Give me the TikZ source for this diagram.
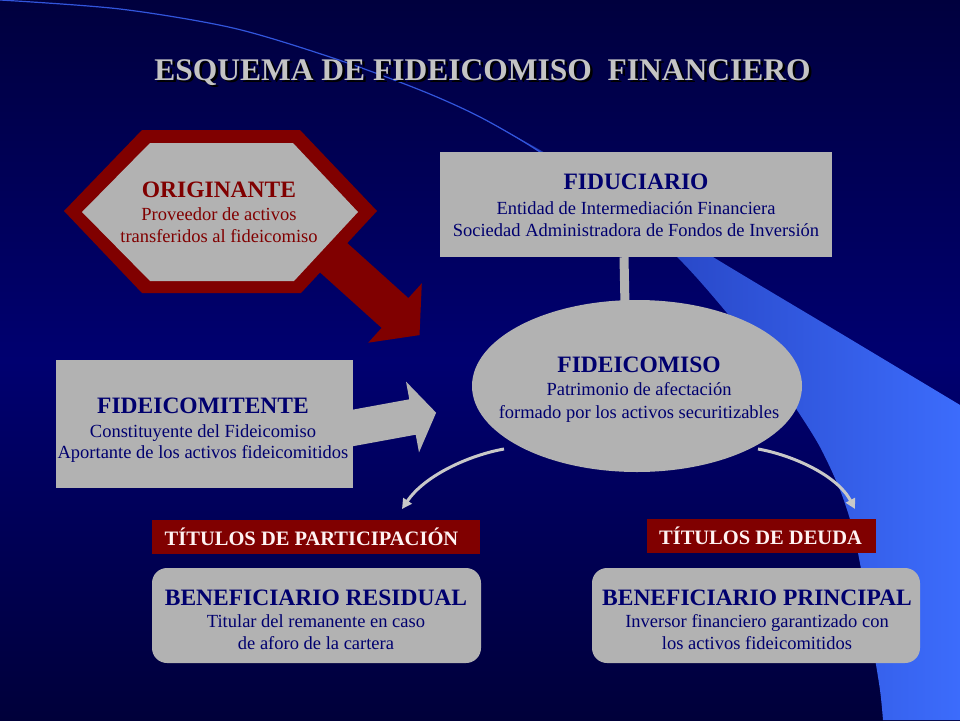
\documentclass[tikz,border=0pt]{standalone}
\usepackage{fontspec}
\setmainfont{Liberation Serif}
\usetikzlibrary{shapes.geometric,arrows.meta,calc}
\definecolor{boxgray}{RGB}{178,178,178}
\definecolor{dred}{RGB}{128,0,0}
\definecolor{navytxt}{RGB}{0,0,110}
\definecolor{ttlgray}{RGB}{196,196,196}
\definecolor{bgtop}{RGB}{0,0,62}
\definecolor{bgmid}{RGB}{0,0,112}
\definecolor{bgbot}{RGB}{0,0,58}
\definecolor{bandtop}{RGB}{28,48,165}
\definecolor{bandbot}{RGB}{60,108,252}
\definecolor{thinline}{RGB}{50,85,220}
\definecolor{curvegray}{RGB}{200,200,200}
\definecolor{tagtext}{RGB}{255,242,242}
\newcommand{\ttlfont}{\fontsize{23.5}{26}\selectfont\bfseries}
\newcommand{\shadowtext}[1]{\rlap{\kern2.5pt\raisebox{-2.5pt}{\textcolor{black}{#1}}}#1}
\begin{document}
\begin{tikzpicture}[x=1pt,y=-1pt,
  graybox/.style={fill=boxgray, draw=none, inner sep=0pt},
  txt/.style={align=center, text=navytxt, inner sep=0pt},
  tagbox/.style={fill=dred, draw=none, inner sep=0pt},
  tagtxt/.style={anchor=base, inner sep=0pt, text=tagtext, font=\fontsize{20.5}{24}\selectfont\bfseries},
  curvearrow/.style={draw=curvegray, line width=3pt, -{Triangle[length=10pt,width=10pt]}},
]
\useasboundingbox (0,0) rectangle (960,720);
% background
\shade[top color=bgtop, bottom color=bgbot, middle color=bgmid] (0,0) rectangle (960,720);
% blue swoosh
\shade[left color=bandtop, right color=bandbot]
  plot[smooth] coordinates {(480,117) (540,152) (610,200) (677,257) (727,313) (765,362) (797,410) (820,447) (840,490) (853,530) (863,580) (872,640) (880,690) (883,720)}
  -- (960,720) -- (960,405)
  -- plot[smooth] coordinates {(960,405) (840,333) (713,257) (620,198) (540,150) (480,117)} -- cycle;
\draw[thinline, line width=1.2pt] plot[smooth] coordinates {(0,0) (120,9) (233,28) (333,58) (420,90) (480,117) (540,152) (600,196)};
% title
\node[anchor=base, inner sep=0pt, text=ttlgray, font=\fontsize{31.5}{36}\selectfont\bfseries] (ttl) at (482.5,80) {\shadowtext{ESQUEMA DE FIDEICOMISO\ \ FINANCIERO}};
% originante arrow and hexagon
\fill[dred] (311.8,211.1) -- (408.4,298.1) -- (421.8,283.3) -- (419.5,335.1) -- (368.2,342.7) -- (381.6,327.9) -- (285,240.9) -- cycle;
\fill[dred] (64,211) -- (142,130) -- (300,130) -- (377,211) -- (301,293) -- (142,293) -- cycle;
\fill[boxgray] (82,212) -- (150,143) -- (293,143) -- (358,212) -- (294,281) -- (150,281) -- cycle;
\node[txt, text=dred, font=\fontsize{18.5}{22}\selectfont] (orig) at (219,212.7) {{\ttlfont ORIGINANTE}\\[1pt] Proveedor de activos\\ transferidos al fideicomiso};
% fiduciario
\node[graybox, minimum width=392pt, minimum height=105pt] (fidu) at (636,204.5) {};
\node[txt, font=\fontsize{18.5}{22}\selectfont] (fidutxt) at (636,205.7) {{\ttlfont FIDUCIARIO}\\[3pt] Entidad de Intermediación Financiera\\ Sociedad Administradora de Fondos de Inversión};
% fideicomiso
\node[ellipse, fill=boxgray, minimum width=330pt, minimum height=172pt, inner sep=0pt] (fid) at (637,386) {};
\draw[boxgray, line width=9pt] ([xshift=-12pt]fidu.south) -- ([xshift=-12pt,yshift=-6pt]fid.north);
\node[txt, font=\fontsize{18.5}{23}\selectfont] (fidtxt) at (639,389.2) {{\ttlfont FIDEICOMISO}\\ Patrimonio de afectación\\ formado por los activos securitizables};
% fideicomitente
\fill[boxgray] (325.8,414.6) -- (409.3,399.3) -- (406,381.6) -- (436.1,412.7) -- (419,452.4) -- (415.7,434.7) -- (332.2,450) -- cycle;
\node[graybox, minimum width=297pt, minimum height=128pt] (fcom) at (204.5,424) {};
\node[txt, font=\fontsize{18.5}{21}\selectfont] (fcomtxt) at (203,429.7) {{\ttlfont FIDEICOMITENTE}\\[3pt] Constituyente del Fideicomiso\\ Aportante de los activos fideicomitidos};
% curved arrows
\coordinate (ls) at (504,449); \coordinate (le) at (402,509);
\draw[curvearrow] (ls) .. controls (470,455) and (425,475) .. (le);
\coordinate (rs) at (758,449); \coordinate (re) at (855,509);
\draw[curvearrow] (rs) .. controls (792,455) and (837,475) .. (re);
% tags
\node[tagbox, minimum width=328pt, minimum height=34pt] (tpart) at (316,537) {};
\node[tagtxt] (tparttxt) at (311.5,545.5) {TÍTULOS DE PARTICIPACIÓN};
\node[tagbox, minimum width=229pt, minimum height=34pt] (tdeu) at (761.5,536) {};
\node[tagtxt] (tdeutxt) at (760.5,544) {TÍTULOS DE DEUDA};
% beneficiaries
\node[graybox, rounded corners=15pt, minimum width=329pt, minimum height=95pt] (bres) at (316.5,615.5) {};
\node[txt, font=\fontsize{18.5}{22}\selectfont] (brestxt) at (316,620.2) {{\ttlfont BENEFICIARIO RESIDUAL}\\ Titular del remanente en caso\\ de aforo de la cartera};
\node[graybox, rounded corners=15pt, minimum width=328pt, minimum height=95pt] (bpri) at (756,615.5) {};
\node[txt, font=\fontsize{18.5}{22}\selectfont] (bpritxt) at (757,620.2) {{\ttlfont BENEFICIARIO PRINCIPAL}\\ Inversor financiero garantizado con\\ los activos fideicomitidos};
\end{tikzpicture}
\end{document}
